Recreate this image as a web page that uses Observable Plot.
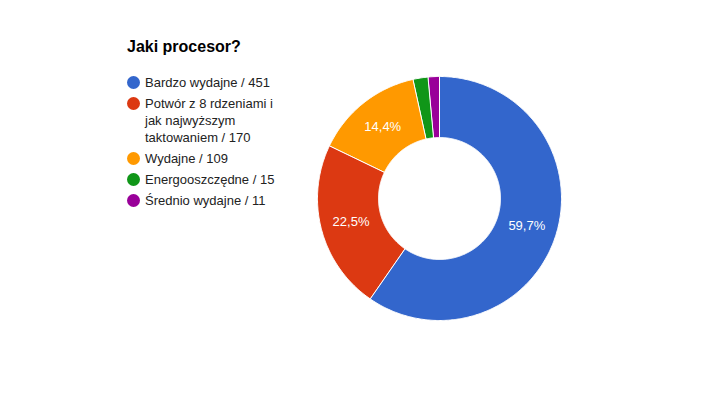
<!DOCTYPE html>
<html>
<head>
<meta charset="utf-8">
<script src="https://cdn.jsdelivr.net/npm/d3@7"></script>
<script src="https://cdn.jsdelivr.net/npm/@observablehq/plot@0.6"></script>
<style>
  html, body { margin: 0; padding: 0; background: #fff; }
  #wrap { position: relative; width: 704px; height: 396px; font-family: "Liberation Sans", Arial, sans-serif; }
  #chart { position: absolute; left: 0; top: 0; }
  #title { position: absolute; left: 127px; top: 38px; font-size: 16px; font-weight: bold; color: #000; white-space: nowrap; }
  #legend { position: absolute; left: 127px; top: 74px; width: 150px; font-size: 13px; color: #222; }
  .item { position: relative; padding-left: 18px; line-height: 17px; margin-bottom: 4px; }
  .item .sw { position: absolute; left: 0; top: 2px; width: 13px; height: 13px; border-radius: 50%; }
  .item .tx { display: block; width: 135px; }
</style>
</head>
<body>
<div id="wrap">
  <div id="chart"></div>
  <div id="title"></div>
  <div id="legend"></div>
</div>
<script>
const title = "Jaki procesor?";
const categories = ["Bardzo wydajne", "Potwór z 8 rdzeniami i jak najwyższym taktowaniem", "Wydajne", "Energooszczędne", "Średnio wydajne"];
const counts = [451, 170, 109, 15, 11];
const colors = ["#3366cc", "#dc3912", "#ff9900", "#109618", "#990099"];

document.getElementById("title").textContent = title;
const legend = document.getElementById("legend");
categories.forEach((c, i) => {
  const it = document.createElement("div");
  it.className = "item";
  const sw = document.createElement("span");
  sw.className = "sw";
  sw.style.background = colors[i];
  const tx = document.createElement("span");
  tx.className = "tx";
  tx.textContent = `${c} / ${counts[i]}`;
  it.appendChild(sw);
  it.appendChild(tx);
  legend.appendChild(it);
});

const total = d3.sum(counts);
const pie = d3.pie().sort(null).value(d => d)(counts);
const inner = 0.5;
const pts = [];
const labels = [];
pie.forEach((p, i) => {
  const a0 = p.startAngle, a1 = p.endAngle;
  const n = Math.max(2, Math.ceil((a1 - a0) / 0.01));
  for (let k = 0; k <= n; k++) {
    const a = a0 + (a1 - a0) * k / n;
    pts.push({cat: categories[i], x: Math.sin(a), y: Math.cos(a)});
  }
  for (let k = n; k >= 0; k--) {
    const a = a0 + (a1 - a0) * k / n;
    pts.push({cat: categories[i], x: inner * Math.sin(a), y: inner * Math.cos(a)});
  }
  const share = counts[i] / total;
  if (share > 0.05) {
    const m = (a0 + a1) / 2, r = (1 + inner) / 2;
    labels.push({x: r * Math.sin(m), y: r * Math.cos(m), text: (share * 100).toFixed(1).replace(".", ",") + "%"});
  }
});

const chart = Plot.plot({
  width: 704,
  height: 396,
  margin: 0,
  style: {background: "transparent"},
  x: {domain: [-1, 1], range: [317, 561], axis: null},
  y: {domain: [-1, 1], range: [320, 76], axis: null},
  color: {domain: categories, range: colors},
  marks: [
    Plot.line(pts, {x: "x", y: "y", z: "cat", fill: "cat", stroke: "white", strokeWidth: 1, curve: "linear-closed"}),
    Plot.text(labels, {x: "x", y: "y", text: "text", fill: "white", fontSize: 13, fontFamily: "Liberation Sans, Arial, sans-serif"})
  ]
});
document.getElementById("chart").appendChild(chart);
</script>
</body>
</html>
